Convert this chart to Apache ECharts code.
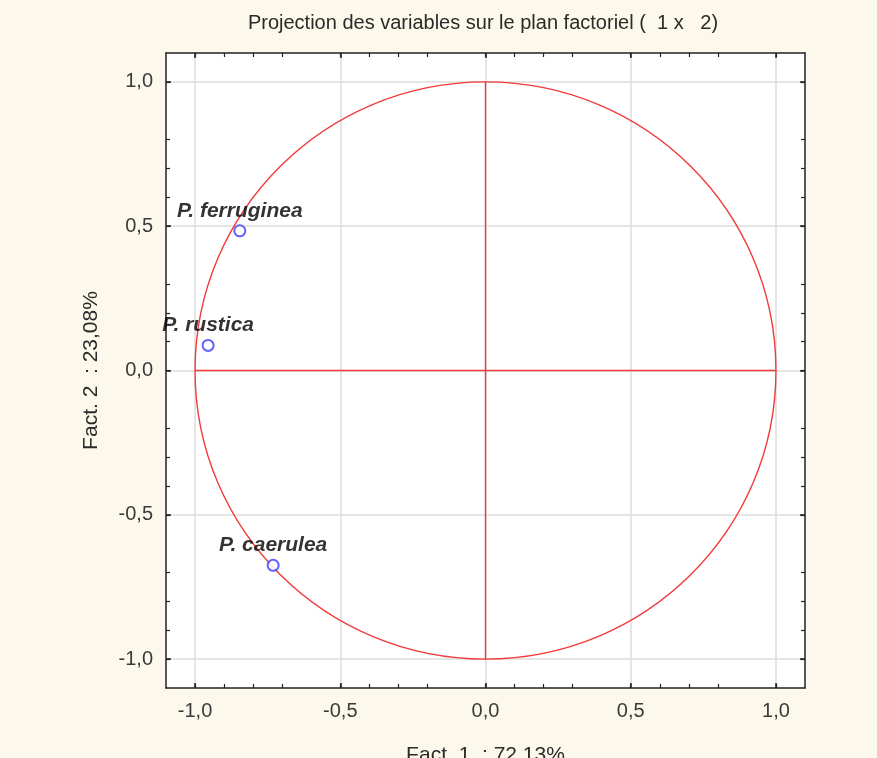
<!DOCTYPE html>
<html>
<head>
<meta charset="utf-8">
<script src="https://cdn.jsdelivr.net/npm/echarts@6/dist/echarts.min.js"></script>
<style>
  html, body { margin: 0; padding: 0; background: #fdf8ec; }
  #chart { width: 877px; height: 758px; }
</style>
</head>
<body>
<div id="chart"></div>
<script>
// Species projected on the first factorial plane
const speciesNames = ['P. ferruginea', 'P. rustica', 'P. caerulea'];
const fact1Values = [-0.846, -0.955, -0.731];
const fact2Values = [0.484, 0.087, -0.675];

const axisTicks = [-1.0, -0.5, 0.0, 0.5, 1.0];
const titleText = 'Projection des variables sur le plan factoriel (  1 x   2)';
const xAxisName = 'Fact. 1  : 72,13%';
const yAxisName = 'Fact. 2  : 23,08%';

const points = speciesNames.map((n, i) => ({ name: n, value: [fact1Values[i], fact2Values[i]] }));

const fmt = v => v.toFixed(1).replace('.', ',');
const FONT = 'Liberation Sans, Arial, sans-serif';
const tickFont = { fontFamily: FONT, fontSize: 20, color: '#3a3a3a' };
const nameFont = { fontFamily: FONT, fontSize: 21, color: '#2a2a2a' };

function valueAxis(pos, show) {
  return {
    type: 'value',
    position: pos,
    min: -1.1, max: 1.1,
    interval: 0.5,
    axisLine: { show: true, onZero: false, lineStyle: { color: '#222', width: 1.5 } },
    axisTick: { show: true, inside: true, length: 5, customValues: axisTicks, lineStyle: { color: '#222', width: 1.5 } },
    minorTick: { show: true, splitNumber: 5, length: 4, lineStyle: { color: '#222', width: 1.2 } },
    splitLine: { show: show, lineStyle: { color: '#dcdcdc', width: 1.5 } },
    axisLabel: show ? Object.assign({ margin: 13, customValues: axisTicks, formatter: fmt }, tickFont) : { show: false }
  };
}

const chart = echarts.init(document.getElementById('chart'));
chart.setOption({
  backgroundColor: '#fdf8ec',
  animation: false,
  title: {
    text: titleText,
    left: 478, top: 8, textAlign: 'center',
    textStyle: { fontFamily: FONT, fontSize: 20, fontWeight: 'normal', color: '#2a2a2a' }
  },
  grid: {
    left: 166, top: 53, width: 639, height: 635,
    outerBoundsMode: 'none', containLabel: false,
    show: true, backgroundColor: '#ffffff', borderWidth: 0
  },
  xAxis: [
    Object.assign(valueAxis('bottom', true), {
      name: xAxisName, nameLocation: 'middle', nameGap: 57,
      nameTextStyle: nameFont
    }),
    valueAxis('top', false)
  ],
  yAxis: [
    Object.assign(valueAxis('left', true), {
      name: yAxisName, nameLocation: 'middle', nameGap: 64,
      nameTextStyle: nameFont
    }),
    valueAxis('right', false)
  ],
  series: [
    {
      // unit correlation circle and the two red axes through the origin
      type: 'custom',
      silent: true,
      data: [[0, 0]],
      renderItem: function (params, api) {
        const c = api.coord([0, 0]);
        const r = api.size([1, 1]);
        const l = api.coord([-1, 0]), rr = api.coord([1, 0]);
        const t = api.coord([0, 1]), b = api.coord([0, -1]);
        const style = { stroke: '#f23a3a', fill: null, lineWidth: 1.4 };
        return {
          type: 'group',
          children: [
            { type: 'ellipse', shape: { cx: c[0], cy: c[1], rx: r[0], ry: r[1] }, style: style },
            { type: 'line', shape: { x1: l[0], y1: l[1], x2: rr[0], y2: rr[1] }, style: style },
            { type: 'line', shape: { x1: t[0], y1: t[1], x2: b[0], y2: b[1] }, style: style }
          ]
        };
      },
      z: 2
    },
    {
      type: 'scatter',
      data: points,
      symbol: 'emptyCircle',
      symbolSize: 11,
      itemStyle: { color: '#3b3bff', borderColor: '#3b3bff', borderWidth: 1.5 },
      label: {
        show: true,
        position: 'top',
        distance: 3,
        formatter: '{b}',
        fontFamily: FONT,
        fontSize: 21,
        fontWeight: 'bold',
        fontStyle: 'italic',
        color: '#000',
        textBorderWidth: 0
      },
      z: 3
    }
  ]
});
</script>
</body>
</html>
